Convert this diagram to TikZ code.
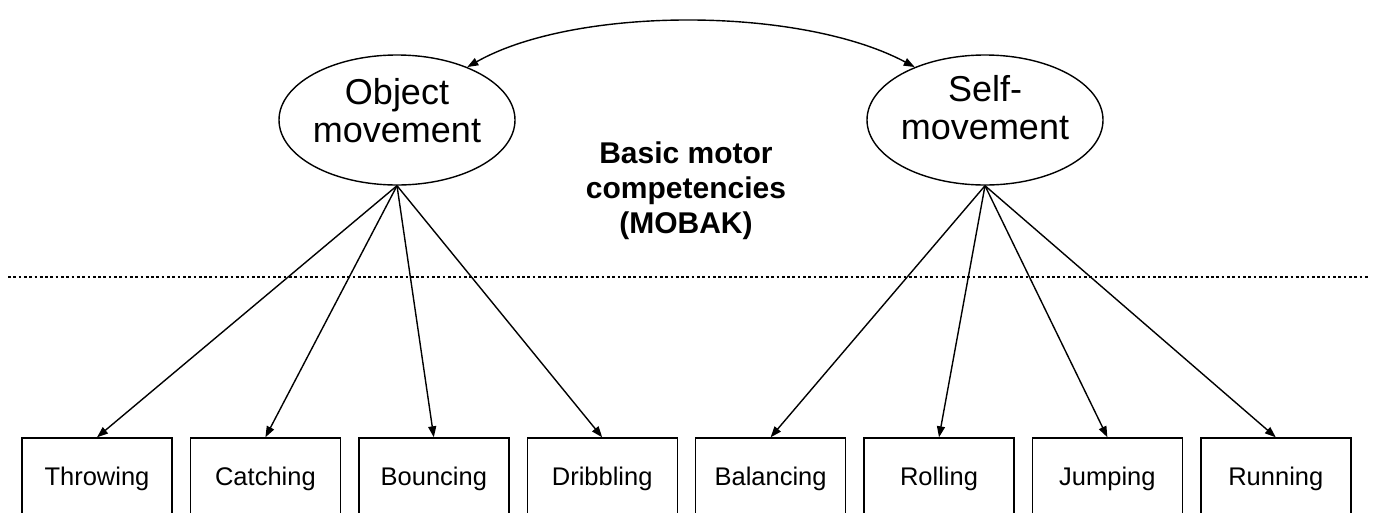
\documentclass[tikz,border=0pt]{standalone}
\usepackage{fontspec}
\setmainfont{Liberation Sans}
\usetikzlibrary{shapes.geometric,arrows.meta}
\begin{document}
\begin{tikzpicture}[x=1pt,y=-1pt,
  line width=1.4pt,
  tipstyle/.style={-{Triangle[length=11pt,width=8pt]}},
  bothtips/.style={{Triangle[length=11pt,width=8pt]}-{Triangle[length=11pt,width=8pt]}},
  factor/.style={draw, ellipse, minimum width=236pt, minimum height=130pt, inner sep=0pt},
  factortext/.style={align=center, inner sep=0pt, font=\fontsize{36}{38}\selectfont},
  skill/.style={draw, rectangle, minimum width=150pt, minimum height=82pt, inner sep=0pt,
    text height=18.5pt, text depth=5.5pt, font=\fontsize{25.5}{30}\selectfont},
  titletext/.style={align=center, inner sep=0pt, font=\bfseries\fontsize{30}{35}\selectfont},
  dotline/.style={line width=2.8pt, dash pattern=on 2.7pt off 2.6pt}
  ]
\useasboundingbox (0,0) rectangle (1375,512);

% latent factors
\node[factor] (obj) at (397,120) {};
\node[factor] (self) at (985,120) {};
\node[factortext] (objt) at (397,111) {Object\\movement};
\node[factortext] (selft) at (985,108) {Self-\\movement};

% title
\node[titletext] (title) at (686,191) {Basic motor\\competencies\\(MOBAK)};

% dotted separator
\coordinate (dl) at (8,277);
\coordinate (dr) at (1368,277);
\draw[dotline] (dl) -- (dr);

% indicator boxes
\node[skill] (b1) at (97,479) {Throwing};
\node[skill] (b2) at (265.4,479) {Catching};
\node[skill] (b3) at (433.8,479) {Bouncing};
\node[skill] (b4) at (602.2,479) {Dribbling};
\node[skill] (b5) at (770.6,479) {Balancing};
\node[skill] (b6) at (939,479) {Rolling};
\node[skill] (b7) at (1107.4,479) {Jumping};
\node[skill] (b8) at (1275.8,479) {Running};

% loadings
\foreach \b in {b1,b2,b3,b4} \draw[tipstyle] (obj.south) -- (\b.north);
\foreach \b in {b5,b6,b7,b8} \draw[tipstyle] (self.south) -- (\b.north);

% correlation
\draw[bothtips] (obj.37) .. controls (575,6) and (800,6) .. (self.143);
\end{tikzpicture}
\end{document}
